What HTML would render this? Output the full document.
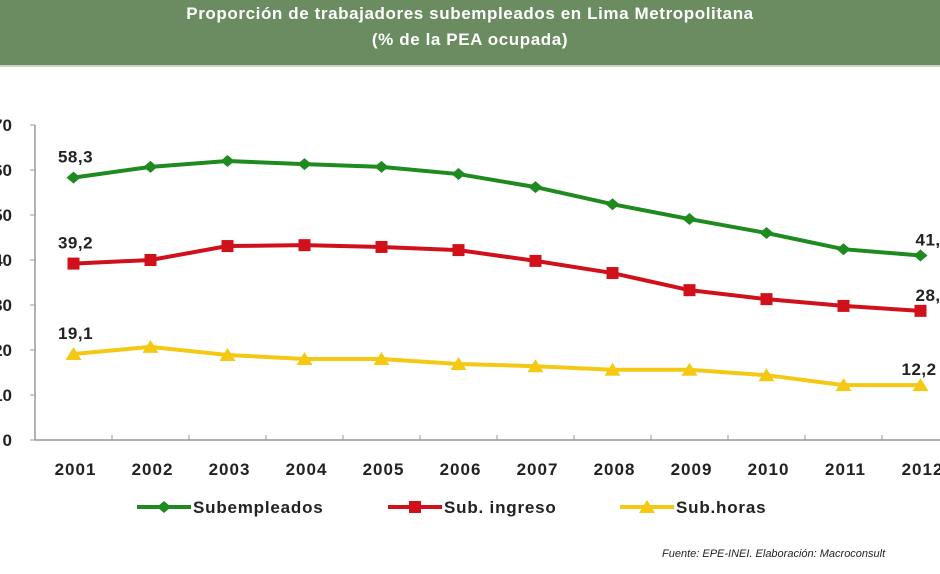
<!DOCTYPE html>
<html><head><meta charset="utf-8"><style>
body{margin:0;width:940px;height:569px;overflow:hidden;background:#fff;font-family:"Liberation Sans",sans-serif}
</style></head><body>
<svg width="940" height="569" xmlns="http://www.w3.org/2000/svg">
<rect x="0" y="0" width="940" height="65" fill="#6a8c60"/>
<rect x="0" y="65" width="940" height="2" fill="#c9d3c4"/>
<text x="470" y="19" text-anchor="middle" fill="#fff" font-weight="bold" font-size="17" letter-spacing="0.6">Proporción de trabajadores subempleados en Lima Metropolitana</text>
<text x="470" y="45" text-anchor="middle" fill="#fff" font-weight="bold" font-size="17" letter-spacing="0.6">(% de la PEA ocupada)</text>
<g id="axes"></g>
<g id="series"></g>
<g id="legend"></g>
<text x="662" y="557" font-style="italic" font-size="11" fill="#222">Fuente: EPE-INEI. Elaboración: Macroconsult</text>
</svg>
<script>
const categories=["2001","2002","2003","2004","2005","2006","2007","2008","2009","2010","2011","2012"];
const subempleados=[58.3,60.7,62,61.3,60.7,59.1,56.2,52.4,49.1,46,42.4,41];
const subIngreso=[39.2,40,43.1,43.3,42.9,42.2,39.8,37.1,33.3,31.3,29.8,28.7];
const subHoras=[19.1,20.7,18.9,18,18,16.9,16.4,15.6,15.6,14.4,12.2,12.2];
const yTicks=[0,10,20,30,40,50,60,70];
const labels=[["58,3","41,0"],["39,2","28,7"],["19,1","12,2"]];
const NS="http://www.w3.org/2000/svg";
const x0=35,bw=77,yb=440,ppu=4.5;
const X=i=>x0+bw*(i+0.5), Y=v=>yb-v*ppu;
function mk(t,a,p){const e=document.createElementNS(NS,t);for(const k in a)e.setAttribute(k,a[k]);p.appendChild(e);return e;}
const ax=document.getElementById('axes');
let l=mk('line',{x1:x0,y1:Y(70),x2:x0,y2:yb,stroke:'#999','stroke-width':1.5},ax);


l=mk('line',{x1:x0,y1:yb,x2:940,y2:yb,stroke:'#999','stroke-width':1.5},ax);


yTicks.forEach(v=>{mk('line',{x1:x0-5,y1:Y(v),x2:x0,y2:Y(v),stroke:'#999'},ax);
const t=mk('text',{x:12,y:Y(v)+6,'text-anchor':'end','font-weight':'bold','font-size':17,fill:'#222'},ax);t.textContent=v;

});
categories.forEach((c,i)=>{mk('line',{x1:x0+bw*(i+1),y1:yb-5,x2:x0+bw*(i+1),y2:yb,stroke:'#999'},ax);
const t=mk('text',{x:X(i)+2,y:yb+35,'text-anchor':'middle','font-weight':'bold','font-size':17,'letter-spacing':1,fill:'#222'},ax);t.textContent=c;

});
const se=document.getElementById('series');
function marker(kind,x,y,col,g){
 if(kind==0)return mk('polygon',{points:`${x},${y-6} ${x+7},${y} ${x},${y+6} ${x-7},${y}`,fill:col},g);
 if(kind==1)return mk('rect',{x:x-6,y:y-6,width:12,height:12,fill:col},g);
 return mk('polygon',{points:`${x},${y-7} ${x+8},${y+6} ${x-8},${y+6}`,fill:col},g);}
const defs=[[subempleados,'#1f8a1f','subempleados'],[subIngreso,'#d0101a','sub-ingreso'],[subHoras,'#f5c814','sub-horas']];
defs.forEach(([d,col,nm],k)=>{
 const g=mk('g',{},se);
 
 
 const p=mk('polyline',{points:d.map((v,i)=>X(i)+','+Y(v)).join(' '),fill:'none',stroke:col,'stroke-width':4},g);
 
 
 d.forEach((v,i)=>{const m=marker(k,X(i),Y(v),col,g);
  
  });
 let t=mk('text',{x:X(0)+2,y:Y(d[0])-15,'text-anchor':'middle','font-weight':'bold','font-size':17,'letter-spacing':0.5,fill:'#222'},g);t.textContent=labels[k][0];
 
 
 t=mk('text',{x:X(11)-(k==2?19:5),y:Y(d[11])-10,'font-weight':'bold','font-size':17,'letter-spacing':0.5,fill:'#222'},g);t.textContent=labels[k][1];
 
 
});
const lg=document.getElementById('legend');
[['Subempleados',137],['Sub. ingreso',388],['Sub.horas',620]].forEach(([n,x],k)=>{
 const g=mk('g',{},lg);
 
 
 mk('line',{x1:x,y1:507,x2:x+54,y2:507,stroke:defs[k][1],'stroke-width':4},g);
 marker(k,x+27,507,defs[k][1],g);
 const t=mk('text',{x:x+56,y:513,'font-weight':'bold','font-size':17,'letter-spacing':0.8,fill:'#222'},g);t.textContent=n;
});
</script>
</body></html>
